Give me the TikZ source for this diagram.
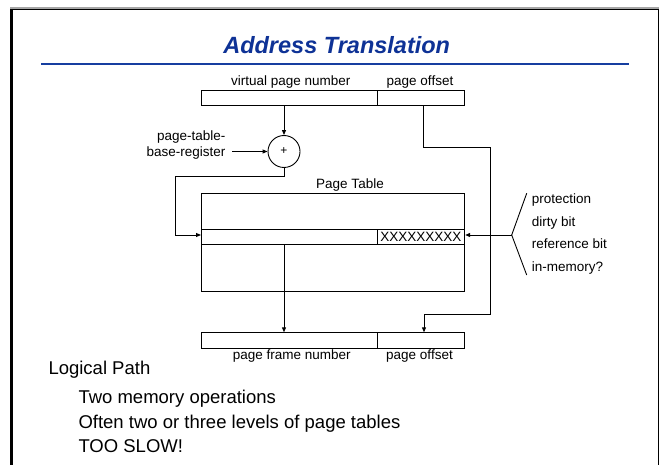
\documentclass[tikz,border=0pt]{standalone}
\usepackage{fontspec}
\setmainfont{Liberation Sans}
\usetikzlibrary{arrows.meta,calc}
\definecolor{titleblue}{RGB}{14,50,150}
\definecolor{ruleblue}{RGB}{22,62,160}
\begin{document}
\begin{tikzpicture}[x=1pt,y=-1pt,
  boxst/.style={draw,line width=0.9pt,inner sep=0pt,anchor=north west},
  lbl/.style={inner sep=0pt,font=\fontsize{13.5}{16}\selectfont},
  body/.style={inner sep=0pt,anchor=base west,font=\fontsize{18.5}{22}\selectfont},
  arr/.style={line width=0.9pt,-{Triangle[length=5pt,width=4pt]}},
  conn/.style={line width=0.9pt}]
\useasboundingbox (0,0) rectangle (659,465);
% frame
\draw[line width=2pt,gray!70] (10,8) -- (659,8);
\draw[line width=1.2pt,black] (10,9.5) -- (658.3,9.5);
\draw[line width=2.5pt,black] (11.5,9) -- (11.5,465);
\draw[line width=1.2pt,black] (658.3,9) -- (658.3,465);
% title
\node[inner sep=0pt,anchor=base,text=titleblue,font=\fontsize{23.5}{28}\selectfont\bfseries\itshape] (title) at (336.7,53.5) {Address Translation};
\draw[line width=2.6pt,ruleblue] (41,64) -- (629,64);
% virtual address
\node[boxst,minimum width=175.7pt,minimum height=15pt] (vpn) at (201,90) {};
\node[boxst,minimum width=87.6pt,minimum height=15pt] (off) at (376.7,90) {};
\node[lbl,anchor=base] (vpnl) at (290.8,86) {virtual page number};
\node[lbl,anchor=base] (offl) at (420,86) {page offset};
% adder
\node[draw,circle,line width=0.9pt,minimum size=32pt,inner sep=0pt,font=\fontsize{12}{14}\selectfont] (plus) at (284,151.5) {+};
\node[lbl,anchor=base east] (ptbra) at (225.5,141) {page-table-};
\node[lbl,anchor=base east] (ptbrb) at (225.5,157) {base-register};
\coordinate (regin) at (232,151.5);
\draw[arr] (plus.north |- vpn.south) -- (plus.north);
\draw[arr] (regin) -- (plus.west);
% page table
\node[lbl,anchor=base] (ptl) at (350,189) {Page Table};
\node[boxst,minimum width=263.3pt,minimum height=98.5pt] (pt) at (201,193) {};
\node[boxst,minimum width=175.7pt,minimum height=15.3pt] (row1) at (201,229) {};
\node[boxst,minimum width=87.6pt,minimum height=15.3pt,font=\fontsize{13.5}{16}\selectfont] (row2) at (376.7,229) {XXXXXXXXX};
\coordinate (aL) at (175,176.5);
\coordinate (rowin) at (201,235);
\draw[arr] (plus.south) |- (aL) |- (rowin);
% physical address
\node[boxst,minimum width=176pt,minimum height=16pt] (pfn) at (200.7,332.3) {};
\node[boxst,minimum width=87.6pt,minimum height=16pt] (poff) at (376.7,332.3) {};
\node[lbl,anchor=base] (pfnl) at (291.7,359.5) {page frame number};
\node[lbl,anchor=base] (poffl) at (419.5,359.5) {page offset};
\draw[arr] (plus.south |- row1.south) -- (plus.south |- pfn.north);
% offset path
\coordinate (o1) at (423.3,147);
\coordinate (o2) at (490,314.3);
\coordinate (o3) at (424,0);
\draw[arr] (o1 |- off.south) -- (o1) -| (o2) -| (o3 |- poff.north);
% bits
\coordinate (br) at (511.7,235);
\coordinate (bt) at (526.7,193.3);
\coordinate (bb) at (526.7,275);
\draw[arr] (br) -- (row2.east |- br);
\draw[conn] (bt) -- (br) -- (bb);
\node[lbl,anchor=base west] (b1) at (531.7,204) {protection};
\node[lbl,anchor=base west] (b2) at (531.7,226.5) {dirty bit};
\node[lbl,anchor=base west] (b3) at (531.7,249) {reference bit};
\node[lbl,anchor=base west] (b4) at (531.7,271.5) {in-memory?};
% text
\node[body] (t1) at (48.3,374) {Logical Path};
\node[body] (t2) at (78.3,403.5) {Two memory operations};
\node[body] (t3) at (78.3,428.5) {Often two or three levels of page tables};
\node[body] (t4) at (78.3,452) {TOO SLOW!};
\end{tikzpicture}
\end{document}
